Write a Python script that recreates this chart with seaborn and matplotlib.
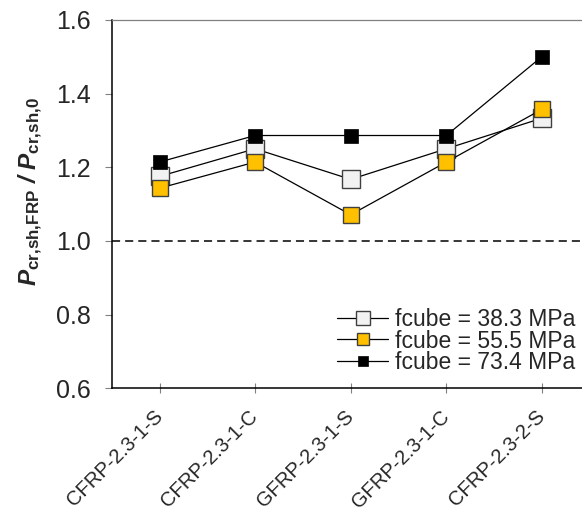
import matplotlib
matplotlib.use("Agg")
import matplotlib.pyplot as plt
import seaborn as sns
import pandas as pd

# Specimen labels and normalised cracking loads for three concrete strengths
categories = ["CFRP-2.3-1-S", "CFRP-2.3-1-C", "GFRP-2.3-1-S", "GFRP-2.3-1-C", "CFRP-2.3-2-S"]
series_labels = ["fcube = 38.3 MPa", "fcube = 55.5 MPa", "fcube = 73.4 MPa"]
ratio_383 = [1.175, 1.250, 1.167, 1.250, 1.333]
ratio_555 = [1.143, 1.214, 1.071, 1.214, 1.357]
ratio_734 = [1.214, 1.286, 1.286, 1.286, 1.500]
y_ticks = [0.6, 0.8, 1.0, 1.2, 1.4, 1.6]

sns.set_style("ticks")
plt.rcParams["font.family"] = ["Liberation Sans", "DejaVu Sans"]
plt.rcParams["mathtext.fontset"] = "custom"
plt.rcParams["mathtext.rm"] = "Liberation Sans"
plt.rcParams["mathtext.bf"] = "Liberation Sans:bold"
plt.rcParams["mathtext.it"] = "Liberation Sans:italic"
plt.rcParams["mathtext.bfit"] = "Liberation Sans:italic:bold"

fig = plt.figure(figsize=(5.82, 5.11), dpi=100)
ax = fig.add_axes([111.7 / 582, 122.7 / 511, 478 / 582, 368.5 / 511])

styles = [
    dict(markerfacecolor="#F2F2F2", markeredgecolor="#404040", markersize=12.5, markeredgewidth=1.0),
    dict(markerfacecolor="#FFC000", markeredgecolor="#404040", markersize=11.3, markeredgewidth=1.0),
    dict(markerfacecolor="#000000", markeredgecolor="#000000", markersize=10.2, markeredgewidth=0.5),
]

frames = []
for label, vals in zip(series_labels, [ratio_383, ratio_555, ratio_734]):
    frames.append(pd.DataFrame({"specimen": categories, "ratio": vals, "series": label}))
df = pd.concat(frames, ignore_index=True)

for i, (label, st) in enumerate(zip(series_labels, styles)):
    sub = df[df["series"] == label]
    sns.lineplot(data=sub, x="specimen", y="ratio", ax=ax, color="black",
                 linewidth=0.9, marker="s", label=label, zorder=3 + i,
                 sort=False, **st)

ax.axhline(1.0, color="black", linewidth=1.1, linestyle=(0, (5.3, 3.3)), zorder=2)

ax.set_xlim(-0.5, 4.5)
ax.set_ylim(0.6, 1.6)
ax.set_yticks(y_ticks)
ax.set_yticklabels([f"{t:.1f}" for t in y_ticks], fontsize=18)
ax.set_xticks(range(len(categories)))
ax.set_xticklabels(categories, rotation=45, ha="right", va="center",
                   rotation_mode="anchor", fontsize=14.5)
ax.tick_params(axis="y", direction="out", length=5, width=0.8, color="#808080", pad=10)
ax.tick_params(axis="x", direction="inout", length=6.5, width=0.8, color="#808080", pad=15)

ax.spines["left"].set_linewidth(1.1)
ax.spines["bottom"].set_linewidth(1.1)
ax.spines["left"].set_color("black")
ax.spines["bottom"].set_color("black")
ax.spines["top"].set_visible(True)
ax.spines["top"].set_color("#808080")
ax.spines["top"].set_linewidth(0.9)
ax.spines["right"].set_visible(False)

ax.set_xlabel("")
ax.set_ylabel(r"$\mathbfit{P}_{\mathbf{cr{,}sh{,}FRP}}\ \mathbfit{/}\ \mathbfit{P}_{\mathbf{cr{,}sh{,}0}}$",
              fontsize=17.5)
ax.yaxis.set_label_coords((45 - 111.7) / 478, 0.535)

leg = ax.legend(loc="center left", bbox_to_anchor=(326 / 582, 1 - 341 / 511),
                bbox_transform=fig.transFigure, frameon=False, fontsize=16.5,
                borderpad=0, handlelength=2.2, handletextpad=0.3,
                labelspacing=-0.05, markerscale=0.75)

fig.savefig("out.png", dpi=100)
